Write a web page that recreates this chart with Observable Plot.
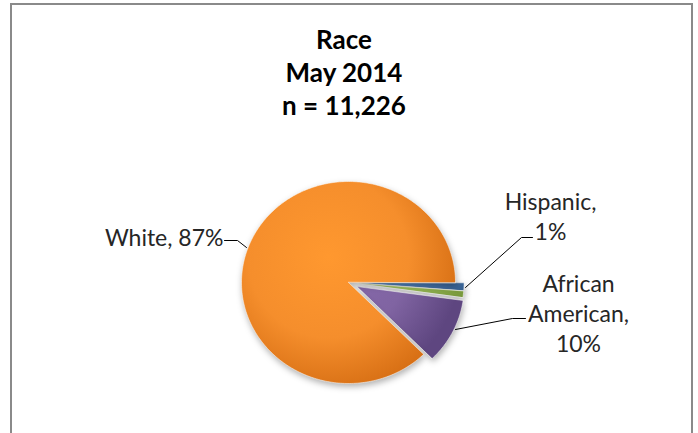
<!DOCTYPE html>
<html>
<head>
<meta charset="utf-8">
<script src="https://cdn.jsdelivr.net/npm/d3@7"></script>
<script src="https://cdn.jsdelivr.net/npm/@observablehq/plot@0.6"></script>
<style>
  html, body { margin: 0; padding: 0; background: #fff; }
  #chart { position: relative; width: 698px; height: 433px; overflow: hidden; background: #fff; }
  #frame { position: absolute; left: 10px; top: 3px; width: 679px; height: 460px;
           border: 2px solid #8a8a8a; border-bottom: none; }
  #title { position: absolute; left: 0; top: 23px; width: 688px; text-align: center;
           font-family: Lato, "Open Sans", sans-serif; font-weight: bold; font-size: 26px;
           line-height: 33px; color: #000; }
  #plot { position: absolute; left: 0; top: 0; }
  .pie-chart .slices path { filter: drop-shadow(1px 3px 3px rgba(0,0,0,0.30)); }
</style>
</head>
<body>
<div id="chart">
  <div id="frame"></div>
  <div id="plot"></div>
  <div id="title"></div>
</div>
<script>
// ---- data ----
const titleLines = ["Race", "May 2014", "n = 11,226"];
const categories = ["Hispanic", "Other", "African American", "White"];
const shares = [1.2, 1.0, 10.4, 87.4];
const labelTexts = ["Hispanic,\n1%", "", "African\nAmerican,\n10%", "White, 87%"];

// ---- styles / layout ----
const baseColors = ["#4F81BD", "#9BBB59", "#8064A2", "#F58E2C"];
const edgeColors = ["#3A6496", "#7A9A3E", "#5E4680", "#D87015"];
const explode = [0.08, 0.08, 0.09, 0];
const pie = {cx: 348, cy: 282, rx: 107, ry: 101};
const labelPos = [
  {x: 550, y: 215, anchor: "middle"},
  null,
  {x: 578, y: 312, anchor: "middle"},
  {x: 223, y: 238, anchor: "end"}
];
const leaders = [
  [[532, 237], [521, 237], [465, 287]],
  null,
  [[525, 318], [512, 318], [455, 329]],
  [[224, 240], [237, 240], [246, 247]]
];

document.getElementById("title").innerHTML = titleLines.join("<br>");

// build slice polygons
const total = d3.sum(shares);
const pts = [];
let cum = 0;
categories.forEach((name, i) => {
  const a0 = cum / total * 2 * Math.PI;
  cum += shares[i];
  const a1 = cum / total * 2 * Math.PI;
  const mid = (a0 + a1) / 2;
  const ox = explode[i] * pie.rx * Math.cos(mid);
  const oy = explode[i] * pie.ry * Math.sin(mid);
  pts.push({name, x: pie.cx + ox, y: pie.cy + oy});
  const n = Math.max(2, Math.ceil((a1 - a0) / (Math.PI / 180)));
  for (let k = 0; k <= n; k++) {
    const a = a0 + (a1 - a0) * k / n;
    pts.push({name, x: pie.cx + ox + pie.rx * Math.cos(a), y: pie.cy + oy + pie.ry * Math.sin(a)});
  }
});

const labelRows = [];
categories.forEach((name, i) => {
  if (labelPos[i] && labelTexts[i]) labelRows.push({name, text: labelTexts[i], ...labelPos[i]});
});
const leaderRows = [];
categories.forEach((name, i) => {
  if (leaders[i]) leaders[i].forEach(([x, y]) => leaderRows.push({name, x, y}));
});

const fillUrls = categories.map((_, i) => `url(#grad${i})`);
const labelFont = "Lato, 'Open Sans', sans-serif";

const chart = Plot.plot({
  width: 698,
  height: 433,
  margin: 0,
  className: "pie-chart",
  x: {domain: [0, 698], range: [0, 698], axis: null},
  y: {domain: [0, 433], range: [0, 433], axis: null},
  color: {type: "ordinal", domain: categories, range: fillUrls},
  marks: [
    Plot.line(pts, {x: "x", y: "y", z: "name", fill: "name", stroke: "white", strokeOpacity: 0.5,
      strokeWidth: 1, curve: "linear-closed", className: "slices"}),
    Plot.line(leaderRows, {x: "x", y: "y", z: "name", stroke: "#000", strokeWidth: 1}),
    Plot.text(labelRows.filter(d => d.anchor === "middle"), {x: "x", y: "y", text: "text",
      textAnchor: "middle", lineAnchor: "middle", lineHeight: 1.3, fontSize: 23,
      fontFamily: labelFont, fill: "#262626"}),
    Plot.text(labelRows.filter(d => d.anchor === "end"), {x: "x", y: "y", text: "text",
      textAnchor: "end", lineAnchor: "middle", fontSize: 23,
      fontFamily: labelFont, fill: "#262626"})
  ]
});

// radial gradients for the shaded slices
const ns = "http://www.w3.org/2000/svg";
const defs = document.createElementNS(ns, "defs");
categories.forEach((_, i) => {
  const g = document.createElementNS(ns, "radialGradient");
  g.setAttribute("id", `grad${i}`);
  g.setAttribute("gradientUnits", "userSpaceOnUse");
  g.setAttribute("cx", pie.cx - 20);
  g.setAttribute("cy", pie.cy - 25);
  g.setAttribute("r", pie.rx * 1.25);
  [[0, d3.color(baseColors[i]).brighter(0.2)], [0.6, baseColors[i]], [1, edgeColors[i]]].forEach(([o, c]) => {
    const s = document.createElementNS(ns, "stop");
    s.setAttribute("offset", o);
    s.setAttribute("stop-color", c.toString());
    g.appendChild(s);
  });
  defs.appendChild(g);
});
chart.insertBefore(defs, chart.firstChild);

document.getElementById("plot").appendChild(chart);
</script>
</body>
</html>
